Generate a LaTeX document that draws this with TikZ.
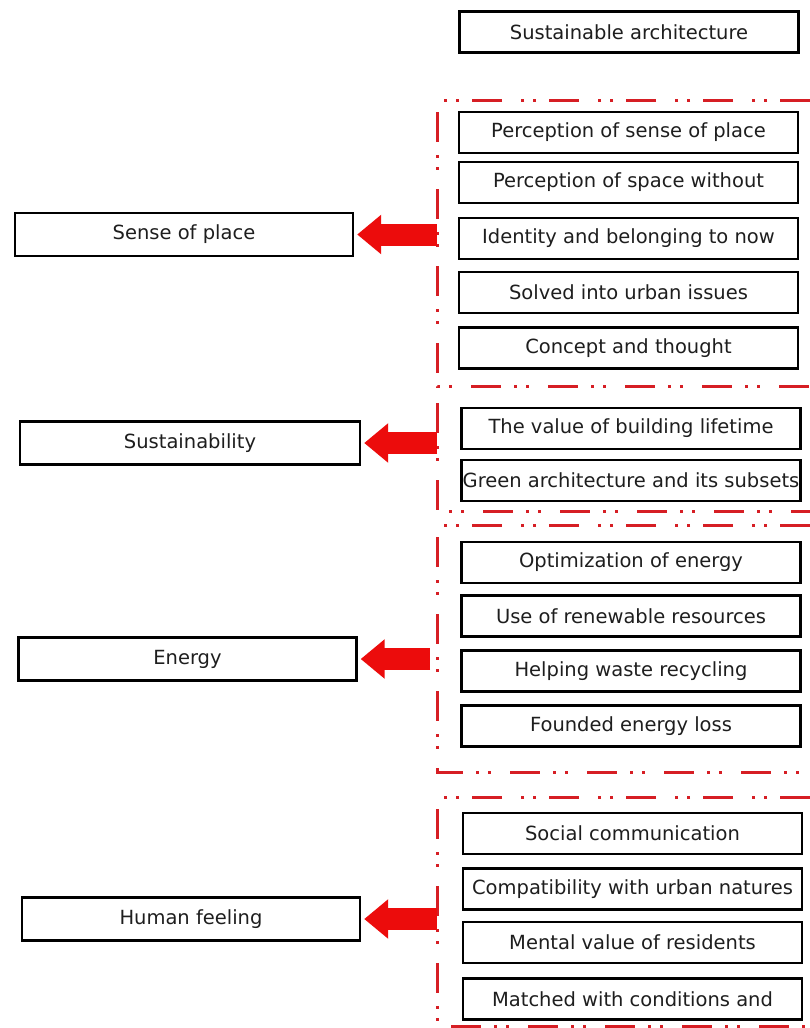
\documentclass[tikz,border=0pt]{standalone}
\usepackage{fontspec}
\setmainfont{DejaVu Sans}
\usetikzlibrary{arrows.meta}
\definecolor{framered}{RGB}{214,30,36}
\definecolor{arrowred}{RGB}{236,12,12}
\definecolor{txt}{RGB}{30,30,30}
\begin{document}
\begin{tikzpicture}[x=1pt,y=-1pt,
  rbox/.style={draw=black,line width=2.4pt,minimum width=339pt,minimum height=41pt,inner sep=0pt,
    font=\fontsize{19.5}{21}\selectfont,text=txt,fill=white},
  lbox/.style={rbox,minimum width=338pt,minimum height=43pt},
  frameline/.style={draw=framered,line width=3pt,
    dash pattern=on 30pt off 13pt on 3pt off 9pt on 3pt off 19pt},
  bigarrow/.style={draw=arrowred,line width=22pt,
    -{Triangle[length=24pt,width=38pt]},shorten >=3pt}]
\useasboundingbox (0,0) rectangle (810,1028);
\fill[white] (0,0) rectangle (810,1028);

% frames
\draw[frameline] (810,100) -- (437,100) -- (437,386) -- (810,386);
\draw[frameline,dash phase=60pt] (437,386) -- (437,511) -- (810,511);
\draw[frameline] (810,525) -- (437,525) -- (437,772) -- (810,772);
\draw[frameline] (810,797) -- (437,797) -- (437,1026) -- (810,1026);

% top
\node[rbox] (top) at (629,32) {Sustainable architecture};

% frame 1
\node[rbox] (a1) at (628.5,132.5) {Perception of sense of place};
\node[rbox] (a2) at (628.5,182.5) {Perception of space without};
\node[rbox] (a3) at (628.5,238.5) {Identity and belonging to now};
\node[rbox] (a4) at (628.5,292.5) {Solved into urban issues};
\node[rbox] (a5) at (628.5,348) {Concept and thought};

% frame 2
\node[rbox] (b1) at (631,428.5) {The value of building lifetime};
\node[rbox] (b2) at (631,480.5) {Green architecture and its subsets};

% frame 3
\node[rbox] (c1) at (631,562.5) {Optimization of energy};
\node[rbox] (c2) at (631,616) {Use of renewable resources};
\node[rbox] (c3) at (631,671) {Helping waste recycling};
\node[rbox] (c4) at (631,726) {Founded energy loss};

% frame 4
\node[rbox] (d1) at (632.5,833.5) {Social communication};
\node[rbox] (d2) at (632.5,889) {Compatibility with urban natures};
\node[rbox] (d3) at (632.5,942.5) {Mental value of residents};
\node[rbox] (d4) at (632.5,999) {Matched with conditions and};

% left boxes
\node[lbox] (sp) at (184,234.5) {Sense of place};
\node[lbox,minimum width=340pt] (su) at (190,443) {Sustainability};
\node[lbox] (en) at (187.5,659) {Energy};
\node[lbox] (hf) at (191,919) {Human feeling};

% arrow tails
\coordinate (tsp) at (437,234.5);
\coordinate (tsu) at (437,443);
\coordinate (ten) at (430,659);
\coordinate (thf) at (437,919);

\draw[bigarrow] (tsp) -- (sp.east);
\draw[bigarrow] (tsu) -- (su.east);
\draw[bigarrow] (ten) -- (en.east);
\draw[bigarrow] (thf) -- (hf.east);
\end{tikzpicture}
\end{document}
